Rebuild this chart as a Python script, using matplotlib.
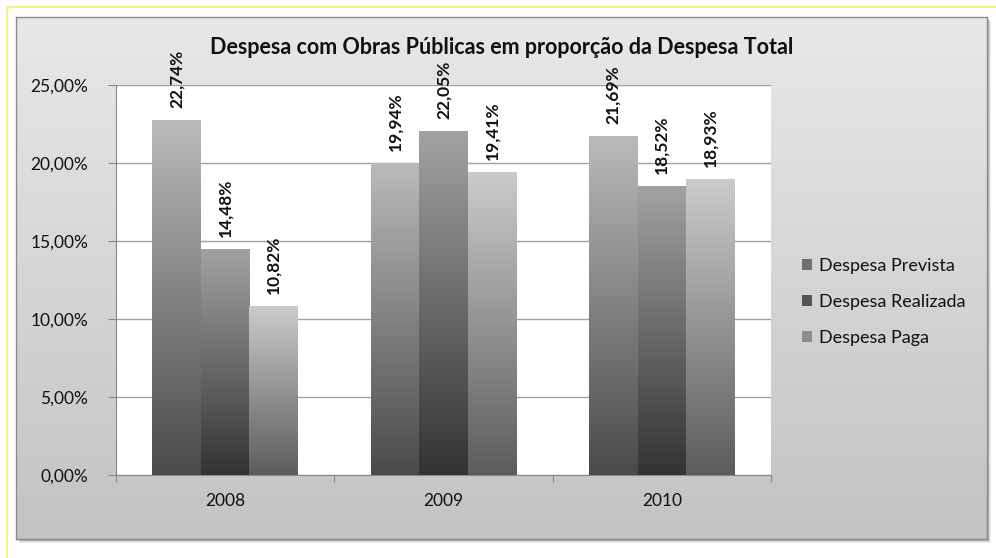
import numpy as np
import matplotlib
matplotlib.use("Agg")
import matplotlib.pyplot as plt
from matplotlib.patches import Patch, Rectangle
from matplotlib.colors import LinearSegmentedColormap
from matplotlib.lines import Line2D

# Data
years = ["2008", "2009", "2010"]
series_names = ["Despesa Prevista", "Despesa Realizada", "Despesa Paga"]
prevista = [22.74, 19.94, 21.69]
realizada = [14.48, 22.05, 18.52]
paga = [10.82, 19.41, 18.93]
yticks = [0, 5, 10, 15, 20, 25]

# gradient (top, bottom) per series
grad_colors = [("#bababa", "#4a4a4a"), ("#a2a2a2", "#333333"), ("#cbcbcb", "#5c5c5c")]

plt.rcParams['font.family'] = ['Lato', 'DejaVu Sans']

W, H = 996, 558
fig = plt.figure(figsize=(W / 100, H / 100), dpi=100)
fig.patch.set_facecolor("white")

# yellow border lines (top / left)
fig.add_artist(Line2D([7 / W, 1], [1 - 7 / H, 1 - 7 / H], color="#f2ee8a", lw=1.5, zorder=-10))
fig.add_artist(Line2D([7 / W, 7 / W], [0, 1 - 7 / H], color="#f2ee8a", lw=1.5, zorder=-10))

# chart frame with shadow and gradient
fx0, fx1, fy0, fy1 = 16, 987, 17, 539
for k, a in [(4, 0.10), (3, 0.15), (1.5, 0.25)]:
    fig.add_artist(Rectangle(((fx0 + k) / W, 1 - (fy1 + k) / H), (fx1 - fx0) / W, (fy1 - fy0) / H,
                             transform=fig.transFigure, facecolor="#555555", edgecolor="none",
                             alpha=a, zorder=-5))
bg = fig.add_axes([fx0 / W, 1 - fy1 / H, (fx1 - fx0) / W, (fy1 - fy0) / H])
bg_cmap = LinearSegmentedColormap.from_list("bg", ["#c3c3c3", "#e8e8e8"])
bg.imshow(np.linspace(0, 1, 256).reshape(-1, 1), aspect="auto", cmap=bg_cmap,
          origin="lower", extent=[0, 1, 0, 1])
bg.set_xlim(0, 1)
bg.set_ylim(0, 1)
bg.set_xticks([])
bg.set_yticks([])
for s in bg.spines.values():
    s.set_color("#8a8a8a")
    s.set_linewidth(1)

# plot area
ax = fig.add_axes([116 / W, 1 - 475 / H, (771 - 116) / W, (475 - 85) / H])
ax.set_facecolor("white")

x = np.arange(len(years))
bw = 1 / (3 + 1.5)
data = [prevista, realizada, paga]
for i, vals in enumerate(data):
    bars = ax.bar(x + (i - 1) * bw, vals, bw, color="none", edgecolor="none", zorder=3)
    cmap = LinearSegmentedColormap.from_list("g%d" % i, [grad_colors[i][1], grad_colors[i][0]])
    for b, v in zip(bars, vals):
        bx, bwid, bh = b.get_x(), b.get_width(), b.get_height()
        ax.imshow(np.linspace(0, 1, 256).reshape(-1, 1), aspect="auto", cmap=cmap, origin="lower",
                  extent=[bx, bx + bwid, 0, bh], zorder=3)
        ax.annotate(f"{v:.2f}%".replace(".", ","), (bx + bwid / 2, bh), xytext=(0, 9),
                    textcoords="offset points", rotation=90, ha="center", va="bottom",
                    fontsize=12.5, fontweight="bold", color="#111111", zorder=4,
                    annotation_clip=False)

ax.set_xlim(-0.5, 2.5)
ax.set_ylim(0, 25)
ax.set_yticks(yticks)
ax.set_yticklabels([f"{t:.2f}%".replace(".", ",") for t in yticks], fontsize=12.5, color="#111111")
ax.yaxis.grid(True, color="#a0a0a0", lw=1, zorder=0)
ax.set_axisbelow(True)
ax.set_xticks([-0.5, 0.5, 1.5, 2.5])
ax.set_xticklabels([])
ax.set_xticks(x, minor=True)
ax.set_xticklabels(years, minor=True, fontsize=12.5, color="#111111")
ax.tick_params(axis="x", which="major", length=5, color="#888888", direction="out")
ax.tick_params(axis="x", which="minor", length=0, pad=13)
ax.tick_params(axis="y", length=6, color="#888888", pad=14)
for name in ["top", "right"]:
    ax.spines[name].set_visible(False)
ax.spines["left"].set_color("#888888")
ax.spines["bottom"].set_color("#888888")

fig.text(502 / W, 1 - 48 / H, "Despesa com Obras Públicas em proporção da Despesa Total",
         ha="center", va="center", fontsize=15.5, fontweight="bold", color="#111111")

handles = [Patch(facecolor="#707070", edgecolor="none"), Patch(facecolor="#555555", edgecolor="none"),
           Patch(facecolor="#8c8c8c", edgecolor="none")]
fig.legend(handles, series_names, loc="center left", bbox_to_anchor=(786 / W, 1 - 302 / H),
           frameon=False, fontsize=13, handlelength=0.55, handleheight=0.55, handletextpad=0.4,
           labelspacing=1.1, labelcolor="#111111")

fig.savefig("out.png", dpi=100)
